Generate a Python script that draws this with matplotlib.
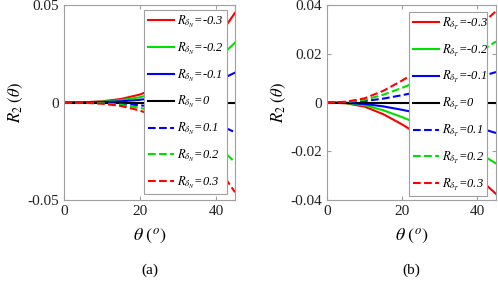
import matplotlib
matplotlib.use('Agg')
import matplotlib.pyplot as plt

plt.rcParams['font.family'] = ['Liberation Serif', 'DejaVu Serif']
plt.rcParams['mathtext.fontset'] = 'stix'
plt.rcParams['axes.unicode_minus'] = False

# theta in degrees
theta = [0, 5, 10, 15, 20, 25, 30, 35, 40, 45]

# panel (a): R_delta_N = -0.3 ... 0.3
a_m03 = [0, 0.0001, 0.0006, 0.0018, 0.0041, 0.0080, 0.0137, 0.0217, 0.0320, 0.0460]
a_m02 = [0, 0.00007, 0.0004, 0.0012, 0.0027, 0.0053, 0.0091, 0.0145, 0.0213, 0.0307]
a_m01 = [0, 0.00003, 0.0002, 0.0006, 0.0014, 0.0027, 0.0046, 0.0072, 0.0107, 0.0153]
a_0 = [0, 0, 0, 0, 0, 0, 0, 0, 0, 0]
a_p01 = [0, -0.00003, -0.0002, -0.0006, -0.0014, -0.0027, -0.0046, -0.0072, -0.0107, -0.0153]
a_p02 = [0, -0.00007, -0.0004, -0.0012, -0.0027, -0.0053, -0.0091, -0.0145, -0.0213, -0.0307]
a_p03 = [0, -0.0001, -0.0006, -0.0018, -0.0041, -0.0080, -0.0137, -0.0217, -0.0320, -0.0460]

# panel (b): R_delta_T = -0.3 ... 0.3
b_m03 = [0, -0.0003, -0.0017, -0.0048, -0.0090, -0.0138, -0.0190, -0.0245, -0.0305, -0.0375]
b_m02 = [0, -0.0002, -0.0011, -0.0032, -0.0060, -0.0092, -0.0127, -0.0163, -0.0203, -0.0250]
b_m01 = [0, -0.0001, -0.0006, -0.0016, -0.0030, -0.0046, -0.0063, -0.0082, -0.0102, -0.0125]
b_0 = [0, 0, 0, 0, 0, 0, 0, 0, 0, 0]
b_p01 = [0, 0.0001, 0.0006, 0.0016, 0.0030, 0.0046, 0.0063, 0.0082, 0.0102, 0.0125]
b_p02 = [0, 0.0002, 0.0011, 0.0032, 0.0060, 0.0092, 0.0127, 0.0163, 0.0203, 0.0250]
b_p03 = [0, 0.0003, 0.0017, 0.0048, 0.0090, 0.0138, 0.0190, 0.0245, 0.0305, 0.0375]

r_values = ['-0.3', '-0.2', '-0.1', '0', '0.1', '0.2', '0.3']
colors = ['#ff0000', '#00e000', '#0000ff', '#000000', '#0000ff', '#00e000', '#ff0000']
styles = ['-', '-', '-', '-', '--', '--', '--']

a_yticks = [-0.05, 0, 0.05]
a_yticklabels = ['-0.05', '0', '0.05']
b_yticks = [-0.04, -0.02, 0, 0.02, 0.04]
b_yticklabels = ['-0.04', '-0.02', '0', '0.02', '0.04']
xticks = [0, 20, 40]
xticklabels = ['0', '20', '40']

fig = plt.figure(figsize=(4.98, 2.83), dpi=100)
ax1 = fig.add_axes([64/498, 83/283, 171/498, 195/283])
ax2 = fig.add_axes([327/498, 83/283, 169/498, 195/283])

panels = [
    (ax1, [a_m03, a_m02, a_m01, a_0, a_p01, a_p02, a_p03], 'N', a_yticks, a_yticklabels, (-0.05, 0.05), '(a)',
     (0.468, 0.036, 0.485, 0.938)),
    (ax2, [b_m03, b_m02, b_m01, b_0, b_p01, b_p02, b_p03], 'T', b_yticks, b_yticklabels, (-0.04, 0.04), '(b)',
     (0.485, 0.030, 0.462, 0.934)),
]

for ax, series, sub, yt, ytl, ylim, cap, box in panels:
    for ys, c, ls, r in zip(series, colors, styles, r_values):
        ax.plot(theta, ys, color=c, linestyle=ls, linewidth=1.5,
                label=r'$R_{\delta_{%s}}$=%s' % (sub, r))
    ax.set_xlim(0, 45)
    ax.set_ylim(*ylim)
    ax.set_xticks(xticks)
    ax.set_xticklabels(xticklabels)
    ax.set_yticks(yt)
    ax.set_yticklabels(ytl)
    ax.tick_params(direction='in', length=3, labelsize=11, colors='#a0a0a0',
                   labelcolor='#222222', top=True, right=True)
    for sp in ax.spines.values():
        sp.set_color('#a0a0a0')
    ax.set_ylabel(r'$R_{2}\ (\theta)$', fontsize=12, labelpad=2)
    ax.set_xlabel(r'$\theta\ (^{o})$', fontsize=13, labelpad=6)
    leg = ax.legend(loc='upper left', bbox_to_anchor=box, mode='expand',
                    prop={'family': 'Liberation Serif', 'style': 'italic', 'size': 9},
                    frameon=True, fancybox=False, framealpha=1, edgecolor='#a0a0a0',
                    handlelength=2.1, handletextpad=0.25, labelspacing=0.86,
                    borderpad=0.3, borderaxespad=0)
    leg.get_frame().set_linewidth(0.8)
    pos = ax.get_position()
    fig.text((pos.x0 + pos.x1) / 2, 1 - 270/283, cap, ha='center', va='center', fontsize=11)

fig.savefig('out.png', dpi=100)
